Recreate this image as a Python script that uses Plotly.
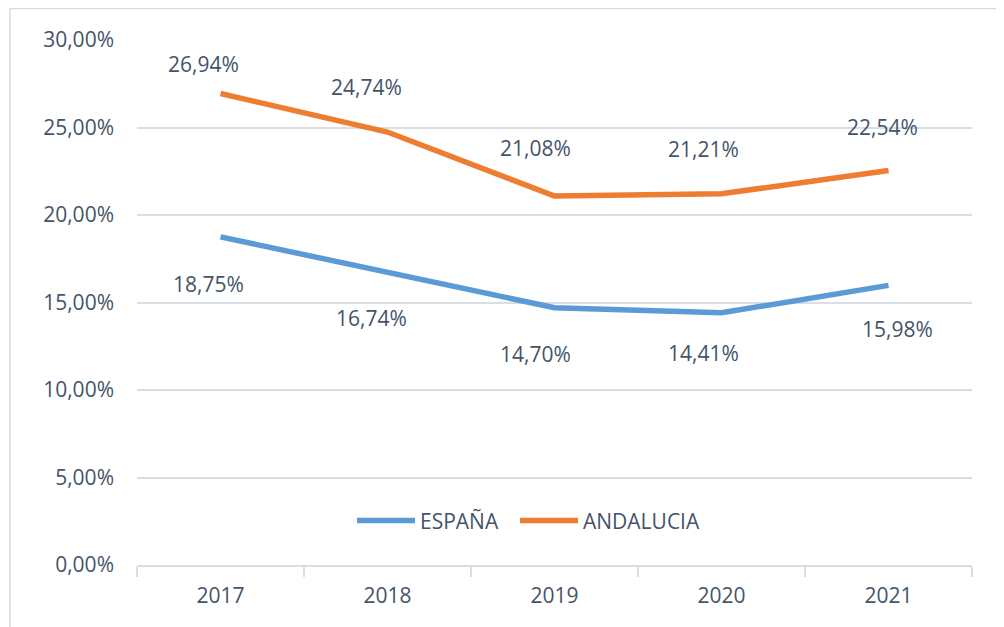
import plotly.graph_objects as go

years = ["2017", "2018", "2019", "2020", "2021"]
espana = [18.75, 16.74, 14.70, 14.41, 15.98]
andalucia = [26.94, 24.74, 21.08, 21.21, 22.54]
y_ticks = [0, 5, 10, 15, 20, 25, 30]

# label offsets (style)
esp_dx = [-12, -16, -19, -18, 9]
esp_dy = [-47, -46, -46, -40, -44]
and_dx = [-17, -21, -19, -18, -6]
and_dy = [30, 45, 48, 45, 44]

TXT = "#44546A"
GRID = "#D9DEE5"
FONT = "Open Sans"
FS = 21


def fmt(v):
    return f"{v:.2f}".replace(".", ",") + "%"


fig = go.Figure()
fig.add_trace(go.Scatter(x=years, y=espana, name="ESPAÑA", mode="lines",
                         line=dict(color="#5B9BD5", width=5.5), legend="legend"))
fig.add_trace(go.Scatter(x=years, y=andalucia, name="ANDALUCIA", mode="lines",
                         line=dict(color="#ED7D31", width=5.5), legend="legend2"))

for i, yr in enumerate(years):
    fig.add_annotation(x=i, y=espana[i], text=fmt(espana[i]), showarrow=False,
                       xshift=esp_dx[i], yshift=esp_dy[i],
                       font=dict(family=FONT, size=FS, color=TXT))
    fig.add_annotation(x=i, y=andalucia[i], text=fmt(andalucia[i]), showarrow=False,
                       xshift=and_dx[i], yshift=and_dy[i],
                       font=dict(family=FONT, size=FS, color=TXT))

fig.add_shape(type="rect", xref="paper", yref="paper",
              x0=-0.1521, x1=1.2, y0=-0.3, y1=1.0600,
              line=dict(color="#D9D9D9", width=1.5), fillcolor="rgba(0,0,0,0)",
              layer="below")

leg_common = dict(orientation="h", y=0.084, xanchor="left", yanchor="middle",
                  itemwidth=58, font=dict(family=FONT, size=FS, color=TXT),
                  bgcolor="rgba(0,0,0,0)")

fig.update_layout(
    width=996, height=619,
    margin=dict(l=129, r=32, t=32, b=62),
    paper_bgcolor="white", plot_bgcolor="white",
    font=dict(family=FONT, size=FS, color=TXT),
    showlegend=True,
    legend=dict(x=0.2575, **leg_common),
    legend2=dict(x=0.4527, **leg_common),
    xaxis=dict(type="category", categoryorder="array", categoryarray=years,
               range=[-0.5, len(years) - 0.5],
               showgrid=False, showline=True, linecolor=GRID, linewidth=2,
               ticks="outside", tickson="boundaries", ticklen=10, tickcolor=GRID, tickwidth=2,
               ticklabelstandoff=11, zeroline=False, tickangle=0),
    yaxis=dict(range=[0, 30], tickvals=y_ticks, ticktext=[fmt(v) for v in y_ticks],
               showgrid=True, gridcolor=GRID, gridwidth=2, zeroline=False, showline=False,
               ticks="", ticklabelstandoff=22),
)

fig.write_html("out.html")
